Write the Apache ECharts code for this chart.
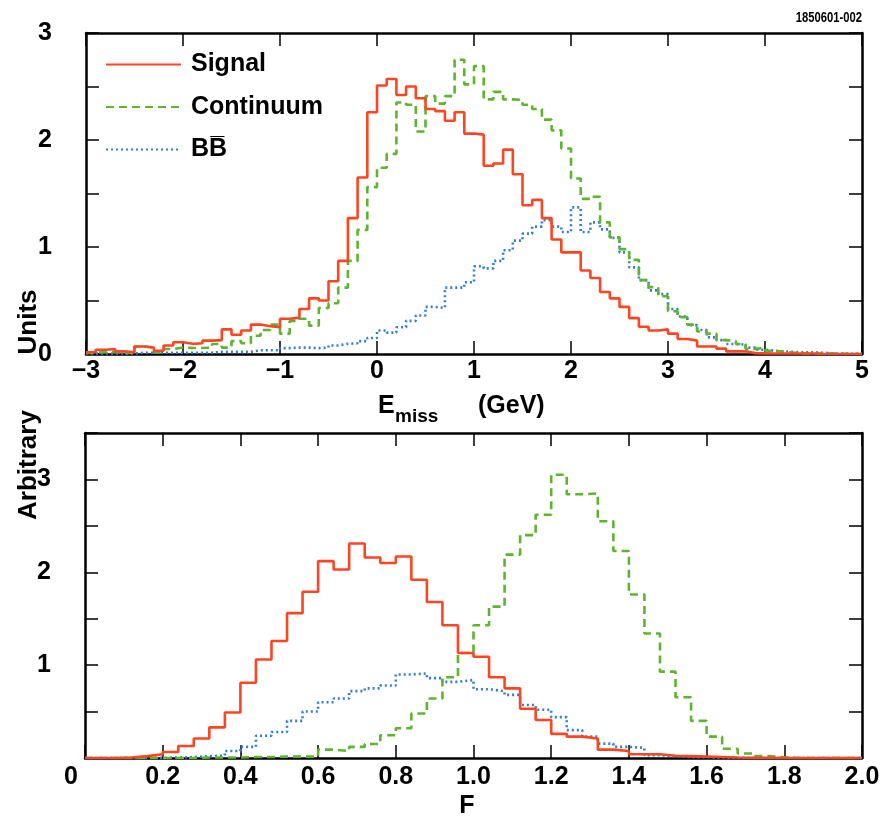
<!DOCTYPE html>
<html><head><meta charset="utf-8">
<script src="https://cdn.jsdelivr.net/npm/echarts@6/dist/echarts.min.js"></script>
<style>html,body{margin:0;padding:0;background:#fff}#c{width:896px;height:820px}</style>
</head><body><div id="c"></div>
<script>
// ---- Top panel: E_miss (GeV), bins of 0.1 from -3 to 5 ----
const emissStart = -3, emissBin = 0.1;
const emissSignal = [0.016,0.04,0.047,0.025,0.016,0.07,0.06,0.03,0.08,0.11,0.095,0.10,0.125,0.13,0.23,0.18,0.22,0.275,0.26,0.25,0.33,0.34,0.42,0.52,0.50,0.68,0.87,1.27,
  1.65,2.26,2.51,2.57,2.42,2.50,2.39,2.29,2.27,2.18,2.26,2.06,2.05,1.76,1.78,1.91,1.68,1.39,
  1.44,1.27,1.07,0.95,0.95,0.78,0.71,0.58,0.52,0.44,0.335,0.255,0.22,0.23,0.19,0.14,0.125,0.07,0.07,0.05,0.025,
  0.025,0.008,0.006,0.004,0.004,0.004,0.004,0.004,0,0,0,0,0];
const emissContinuum = [0.01,0.02,0.02,0.01,0.01,
  0.07,0.06,0.015,0.047,0.06,0.056,0.056,0.06,0.094,0.06,0.12,0.10,0.17,0.225,0.275,0.19,0.31,0.33,0.265,0.43,0.475,0.62,0.87,
  1.16,1.56,1.74,1.87,2.35,2.33,2.08,2.41,2.34,2.41,2.75,2.52,2.69,2.38,2.45,2.38,2.375,2.33,
  2.29,2.19,2.09,1.92,1.64,1.45,1.47,1.23,1.09,0.98,0.88,0.69,0.625,0.54,0.40,0.345,0.275,0.21,0.19,0.13,0.12,
  0.094,0.047,0.06,0.03,0.02,0.012,0.006,0.005,0.005,0.004,0.002,0,0];
const emissBB = [0.005,0.005,0.005,0.005,0.005,
  0.012,0.012,0.012,0.012,0.012,0.012,0.012,0.012,
  0.02,0.02,0.02,0.02,
  0.035,0.035,0.035,
  0.055,0.06,0.06,0.055,0.06,
  0.08,0.095,0.10,
  0.12,0.15,0.22,0.20,0.25,0.31,0.36,0.44,0.43,0.62,0.62,0.67,0.82,0.80,0.87,0.97,1.06,1.125,
  1.19,1.25,1.19,1.14,1.37,1.14,1.23,1.165,1.085,0.95,0.81,0.69,0.595,0.56,0.42,0.35,0.27,0.225,0.155,0.13,0.094,
  0.088,0.06,0.04,0.03,0.025,0.02,0.016,0.016,0.012,0.006,0.004,0.003,0.002];

// ---- Bottom panel: F, bins of 0.04 from 0 to 2 ----
const fStart = 0, fBin = 0.04;
const fSignal = [0,0,0.005,0.02,0.04,
  0.065,0.13,0.21,0.33,0.49,0.81,1.06,1.26,1.56,1.79,2.12,2.03,2.31,2.16,2.10,2.17,1.92,1.68,1.43,1.13,
  1.09,0.87,0.75,0.53,0.41,0.26,0.23,0.21,0.09,0.075,0.04,0.04,0.025,
  0.02,0.015,0.01,0.005,0.003,0.002,0,0,0,0,0,0];
const fContinuum = [0,0,0,0,0,0,0,0.005,0.005,0.005,0.01,0.01,0.015,0.015,0.015,
  0.09,0.075,0.12,0.15,0.245,0.32,0.48,0.64,0.87,1.13,
  1.43,1.63,2.19,2.40,2.62,3.05,2.84,2.85,2.55,2.23,1.76,1.34,
  0.93,0.655,0.40,0.23,0.10,0.048,0.02,0.007,0,0,0,0,0];
const fBB = [0,0,0,0,0.002,0.005,
  0.01,0.02,0.025,
  0.075,0.12,0.24,0.28,0.40,0.50,0.60,0.64,0.72,
  0.75,0.78,0.90,0.91,0.86,0.82,0.84,
  0.74,0.72,0.68,0.57,0.52,0.44,0.30,0.23,0.155,0.12,0.11,0.03,0.02,
  0.01,0.008,0.005,0.003,0.002,0,0,0,0,0,0,0];

const topXTicks = [-3,-2,-1,0,1,2,3,4,5];
const seriesNames = ['Signal','Continuum','BB\u0305'];

function steps(start, w, vals){
  const out = vals.map((v,i)=>[+(start+i*w).toFixed(4), v]);
  out.push([+(start+vals.length*w).toFixed(4), vals[vals.length-1]]);
  return out;
}

const FONT = "'Liberation Sans', Arial, Helvetica, sans-serif";
const colors = ['#ff4422','#5cb52c','#2f7fd4'];
const lineTypes = ['solid',[8,5],[2,3]];

const tickStyle = {show:true, inside:true, length:13, lineStyle:{color:'#000', width:1.5}};
const axLine = {show:true, onZero:false, lineStyle:{color:'#000', width:2.5}};
const lblStyle = {color:'#000', fontSize:25, fontWeight:'bold', fontFamily:FONT};

const chart = echarts.init(document.getElementById('c'), null, {renderer:'canvas'});

function mkSeries(name, idx, data, xi, yi){
  return {name, type:'line', step:'end', data, xAxisIndex:xi, yAxisIndex:yi,
    symbol:'none', showSymbol:false, silent:true, animation:false, clip:true,
    lineStyle:{color:colors[idx], width:2.6, type:lineTypes[idx]},
    itemStyle:{color:colors[idx]}, z: 3 - idx};
}

chart.setOption({
  animation:false,
  backgroundColor:'#fff',
  grid:[
    {left:86, top:33, width:776, height:321},
    {left:85, top:433, width:777, height:325}
  ],
  xAxis:[
    {gridIndex:0, type:'value', min:-3, max:5, interval:1, position:'bottom',
      axisLine:axLine, axisTick:tickStyle, splitLine:{show:false},
      axisLabel:Object.assign({margin:5, formatter:v=>topXTicks.includes(v)?(v<0?'\u2212'+Math.abs(v):String(v)):''}, lblStyle)},
    {gridIndex:0, type:'value', min:-3, max:5, interval:1, position:'top',
      axisLine:axLine, axisTick:tickStyle, splitLine:{show:false}, axisLabel:{show:false}},
    {gridIndex:1, type:'value', min:0, max:2, interval:0.2, position:'bottom',
      axisLine:axLine, axisTick:tickStyle, splitLine:{show:false},
      axisLabel:Object.assign({margin:7, formatter:v=>Math.abs(v)<1e-9?'{z|0}':v.toFixed(1),
        rich:{z:{color:'#000', fontSize:25, fontWeight:'bold', fontFamily:FONT, padding:[0,28,0,0]}}}, lblStyle)},
    {gridIndex:1, type:'value', min:0, max:2, interval:0.2, position:'top',
      axisLine:axLine, axisTick:tickStyle, splitLine:{show:false}, axisLabel:{show:false}}
  ],
  yAxis:[
    {gridIndex:0, type:'value', min:0, max:3, interval:0.5, position:'left',
      axisLine:axLine, axisTick:tickStyle, splitLine:{show:false},
      axisLabel:Object.assign({margin:34, formatter:v=>Number.isInteger(v)?String(v):''}, lblStyle)},
    {gridIndex:0, type:'value', min:0, max:3, interval:0.5, position:'right',
      axisLine:axLine, axisTick:tickStyle, splitLine:{show:false}, axisLabel:{show:false}},
    {gridIndex:1, type:'value', min:0, max:3.5, interval:0.5, position:'left',
      axisLine:axLine, axisTick:tickStyle, splitLine:{show:false},
      axisLabel:Object.assign({margin:34, formatter:v=>(Number.isInteger(v)&&v>0)?String(v):''}, lblStyle)},
    {gridIndex:1, type:'value', min:0, max:3.5, interval:0.5, position:'right',
      axisLine:axLine, axisTick:tickStyle, splitLine:{show:false}, axisLabel:{show:false}}
  ],
  legend:{
    data:seriesNames, orient:'vertical', left:105, top:52, padding:0, itemWidth:75, itemHeight:16, itemGap:17.5,
    selectedMode:false,
    itemStyle:{opacity:0, borderWidth:0},
    textStyle:{color:'#000', fontSize:25, fontWeight:'bold', fontFamily:FONT, padding:[0,0,0,5]}
  },
  series:[
    mkSeries(seriesNames[2], 2, steps(emissStart, emissBin, emissBB), 0, 0),
    mkSeries(seriesNames[1], 1, steps(emissStart, emissBin, emissContinuum), 0, 0),
    mkSeries(seriesNames[0], 0, steps(emissStart, emissBin, emissSignal), 0, 0),
    mkSeries(seriesNames[2], 2, steps(fStart, fBin, fBB), 2, 2),
    mkSeries(seriesNames[1], 1, steps(fStart, fBin, fContinuum), 2, 2),
    mkSeries(seriesNames[0], 0, steps(fStart, fBin, fSignal), 2, 2)
  ],
  graphic:[
    {type:'text', x:862, y:18, scaleX:0.75, style:{text:'1850601-002', fill:'#000', align:'right', verticalAlign:'middle', font:"bold 15px "+FONT}},
    {type:'text', x:29, y:465, rotation:Math.PI/2, style:{text:'Arbitrary', fill:'#000', align:'center', verticalAlign:'middle', font:"bold 26px "+FONT}},
    {type:'text', x:29, y:322, rotation:Math.PI/2, style:{text:'Units', fill:'#000', align:'center', verticalAlign:'middle', font:"bold 26px "+FONT}},
    {type:'text', x:378, y:406, style:{text:'E', fill:'#000', align:'left', verticalAlign:'middle', font:"bold 25px "+FONT}},
    {type:'text', x:395, y:417, style:{text:'miss', fill:'#000', align:'left', verticalAlign:'middle', font:"bold 19px "+FONT}},
    {type:'text', x:478, y:406, style:{text:'(GeV)', fill:'#000', align:'left', verticalAlign:'middle', font:"bold 25px "+FONT}},
    {type:'text', x:467, y:806, style:{text:'F', fill:'#000', align:'center', verticalAlign:'middle', font:"bold 25px "+FONT}}
  ]
});
</script></body></html>
